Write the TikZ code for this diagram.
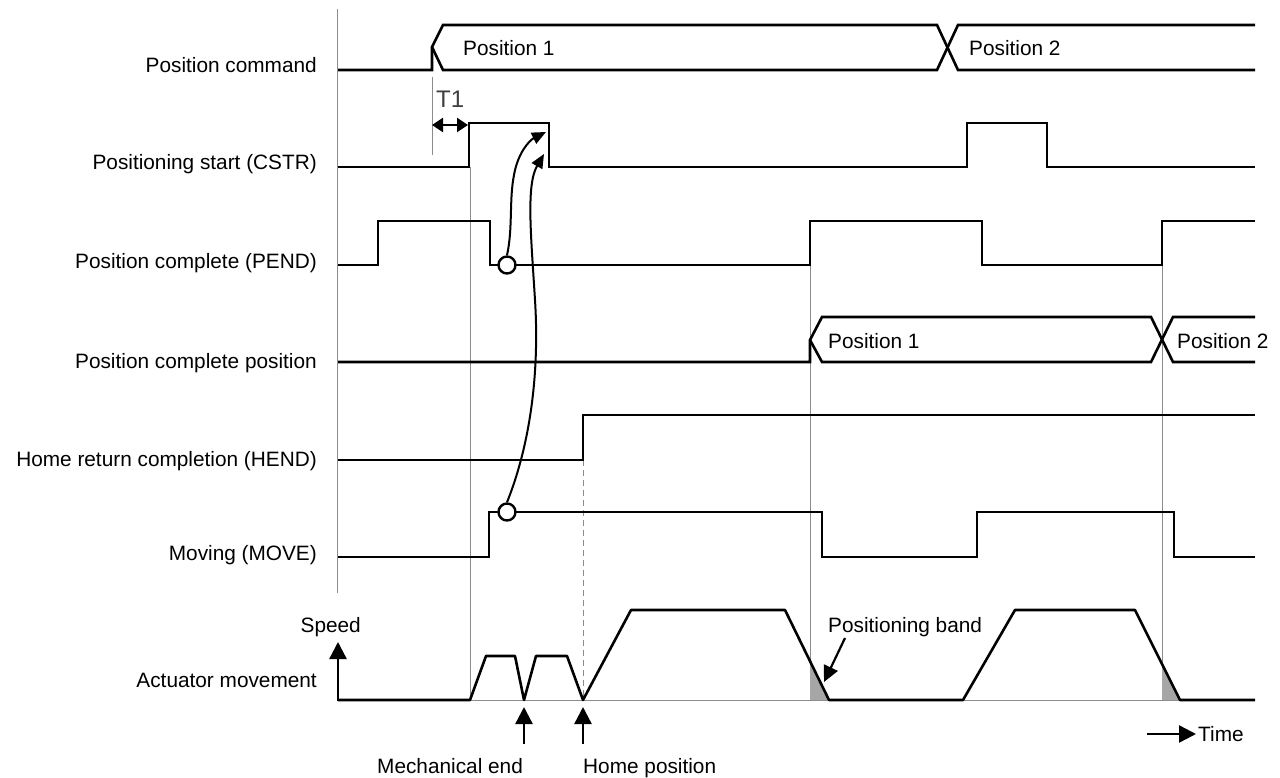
\documentclass[tikz,border=0pt]{standalone}
\usepackage{fontspec}
\setmainfont{Liberation Sans}
\usetikzlibrary{arrows.meta}
\begin{document}
\begin{tikzpicture}[x=1pt,y=-1pt,
  sig/.style={line width=2.6pt, line join=miter},
  guide/.style={line width=1pt, draw=black!45},
  lbl/.style={anchor=base east, inner sep=0pt, font=\fontsize{20.8}{24}\selectfont},
  txt/.style={anchor=base west, inner sep=0pt, font=\fontsize{20.8}{24}\selectfont},
  tip/.style={-{Triangle[length=17pt,width=17pt]}, line width=2.4pt},
  ctip/.style={-{Triangle[length=14pt,width=12pt]}, line width=2pt},
  mark circ/.style={circle, draw, line width=2.4pt, fill=white, minimum size=17pt, inner sep=0pt},
]
\useasboundingbox (0,0) rectangle (1280,778);

% guide lines
\draw[guide] (337,9) -- (337,593);
\draw[guide] (432,77) -- (432,155);
\draw[guide] (470,167) -- (470,700);
\draw[guide] (810,265) -- (810,700);
\draw[guide] (1162,265) -- (1162,700);
\draw[guide, dash pattern=on 6pt off 4pt] (583,460) -- (583,700);
\draw[guide] (338,700) -- (1255,700);

% positioning band shading
\fill[black!35] (810,661) -- (810,700) -- (829,700) -- cycle;
\fill[black!35] (1162,664) -- (1162,700) -- (1180,700) -- cycle;

% left labels
\node[lbl] (l1) at (317,73) {Position command};
\node[lbl] (l2) at (317,170) {Positioning start (CSTR)};
\node[lbl] (l3) at (317,269) {Position complete (PEND)};
\node[lbl] (l4) at (317,368) {Position complete position};
\node[lbl] (l5) at (317,466) {Home return completion (HEND)};
\node[lbl] (l6) at (317,560) {Moving (MOVE)};
\node[lbl] (l7) at (317,687) {Actuator movement};
\node[lbl] (l8) at (361,632) {Speed};

% Position command
\draw[sig] (338,70) -- (432,70) -- (432,47) -- (443,25) -- (937,25) -- (958,70) -- (1255,70);
\draw[sig] (432,47) -- (443,70) -- (937,70) -- (958,25) -- (1255,25);
\node[txt] (p1) at (463,56) {Position 1};
\node[txt] (p2) at (969,56) {Position 2};

% T1
\node[anchor=base west, inner sep=0pt, font=\fontsize{24}{28}\selectfont, text=black!75] (t1) at (436,108) {T1};
\coordinate (ta) at (432,125);
\coordinate (tb) at (468,125);
\draw[{Triangle[length=11pt,width=14pt]}-{Triangle[length=11pt,width=14pt]}, line width=2.4pt] (ta) -- (tb);

% CSTR
\draw[sig] (338,167) -- (469,167) -- (469,123) -- (549,123) -- (549,167) -- (967,167) -- (967,123) -- (1047,123) -- (1047,167) -- (1255,167);

% PEND
\draw[sig] (338,265) -- (378,265) -- (378,221) -- (490,221) -- (490,265) -- (810,265) -- (810,221) -- (982,221) -- (982,265) -- (1162,265) -- (1162,221) -- (1255,221);

% Position complete position
\draw[sig] (338,362) -- (810,362) -- (810,340) -- (822,317) -- (1151,317) -- (1173,362) -- (1255,362);
\draw[sig] (810,340) -- (822,362) -- (1151,362) -- (1173,317) -- (1255,317);
\node[txt] (q1) at (828,348) {Position 1};
\node[txt] (q2) at (1177,348) {Position 2};

% HEND
\draw[sig] (338,460) -- (583,460) -- (583,415) -- (1255,415);

% MOVE
\draw[sig] (338,557) -- (489,557) -- (489,512) -- (822,512) -- (822,557) -- (977,557) -- (977,512) -- (1174,512) -- (1174,557) -- (1255,557);

% Actuator movement
\draw[sig, line join=round] (338,700) -- (470,700) -- (486,656) -- (515,656) -- (524,700) -- (536,656) -- (567,656) -- (583,700) -- (631,610) -- (785,610) -- (829,700) -- (963,700) -- (1015,610) -- (1135,610) -- (1180,700) -- (1255,700);

% causal arrows
\node[mark circ] (c1) at (507,265) {};
\node[mark circ] (c2) at (507,512) {};
\coordinate (a1) at (546,132);
\coordinate (a2) at (544,154);
\draw[ctip] (c1.north) .. controls (513,228) and (509,200) .. (514,175) .. controls (518,152) and (530,140) .. (a1);
\draw[ctip] (c2.north) .. controls (528,450) and (540,380) .. (535,300) .. controls (531,235) and (526,185) .. (a2);

% speed axis arrow
\coordinate (s0) at (338,701);
\coordinate (s1) at (338,642);
\draw[tip] (s0) -- (s1);

% mechanical end / home position arrows
\coordinate (m0) at (524,744);
\coordinate (m1) at (524,707);
\coordinate (h0) at (583,744);
\coordinate (h1) at (583,707);
\draw[tip] (m0) -- (m1);
\draw[tip] (h0) -- (h1);
\node[txt] (me) at (377,773) {Mechanical end};
\node[txt] (hp) at (583,773) {Home position};

% positioning band
\node[txt] (pb) at (828,632) {Positioning band};
\coordinate (b0) at (845,638);
\coordinate (b1) at (824,682);
\draw[-{Triangle[length=16pt,width=15pt]}, line width=2.2pt] (b0) -- (b1);

% time
\coordinate (x0) at (1147,734);
\coordinate (x1) at (1196,734);
\draw[tip] (x0) -- (x1);
\node[txt] (tm) at (1198,741) {Time};
\end{tikzpicture}
\end{document}
